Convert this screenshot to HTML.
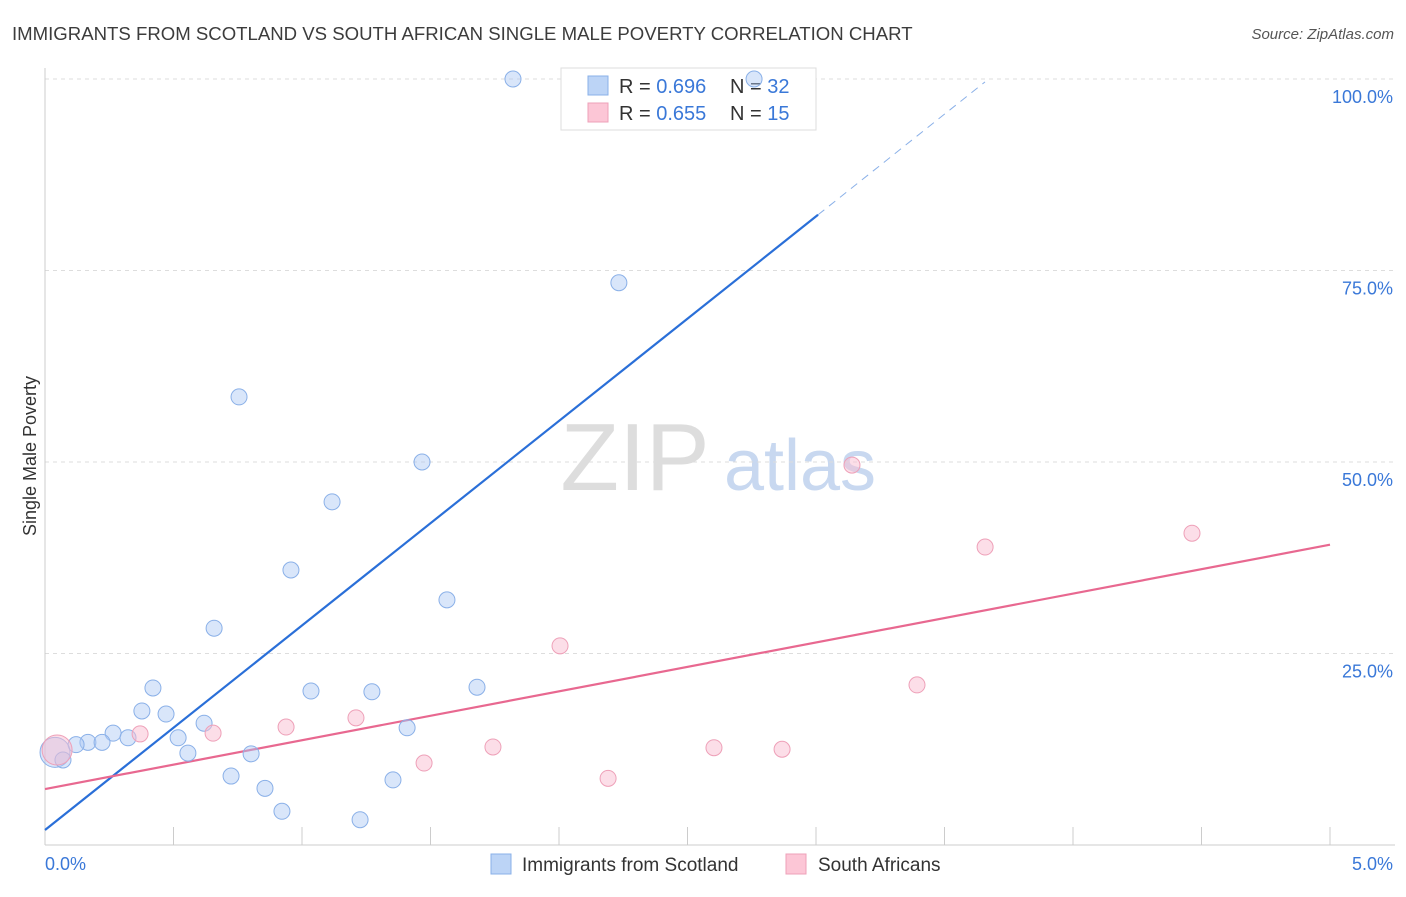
<!DOCTYPE html>
<html><head><meta charset="utf-8"><style>
body{margin:0;background:#fff;font-family:"Liberation Sans",sans-serif;}
svg text{font-family:"Liberation Sans",sans-serif;}
</style></head><body>
<svg id="c" width="1406" height="892" xmlns="http://www.w3.org/2000/svg">
<text x="12" y="40" font-size="18.6" fill="#3c3c3c">IMMIGRANTS FROM SCOTLAND VS SOUTH AFRICAN SINGLE MALE POVERTY CORRELATION CHART</text>
<text x="1394" y="39" font-size="15" fill="#555" text-anchor="end" font-style="italic">Source: ZipAtlas.com</text>
<text x="36" y="456" font-size="18" fill="#333" text-anchor="middle" transform="rotate(-90 36 456)">Single Male Poverty</text>
<g><text x="635" y="490" font-size="96" fill="#ddd" text-anchor="middle" font-family="Liberation Serif,serif">ZIP</text><text x="800" y="490" font-size="72" fill="#c8d8f0" text-anchor="middle">atlas</text></g>
<g id="grid"></g><g id="lines"></g>
<g>
<rect x="561" y="68" width="255" height="62" fill="#fff" stroke="#ddd"/>
<rect x="588" y="76" width="20" height="19" fill="#bcd4f6" stroke="#8ab0e8"/>
<rect x="588" y="103" width="20" height="19" fill="#fcc6d6" stroke="#eea0b8"/>
<text x="619" y="93" font-size="20" fill="#333">R = <tspan fill="#3a78d8">0.696</tspan></text>
<text x="730" y="93" font-size="20" fill="#333">N = <tspan fill="#3a78d8">32</tspan></text>
<text x="619" y="120" font-size="20" fill="#333">R = <tspan fill="#3a78d8">0.655</tspan></text>
<text x="730" y="120" font-size="20" fill="#333">N = <tspan fill="#3a78d8">15</tspan></text>
</g>
<g id="pts"></g>
<g>
<rect x="491" y="854" width="20" height="20" fill="#bcd4f6" stroke="#8ab0e8"/>
<text x="522" y="871" font-size="19" fill="#333">Immigrants from Scotland</text>
<rect x="786" y="854" width="20" height="20" fill="#fcc6d6" stroke="#eea0b8"/>
<text x="818" y="871" font-size="19" fill="#333">South Africans</text>
</g>
</svg>
<script>
const yTicks=[25,50,75,100];
const yTickLabels=["25.0%","50.0%","75.0%","100.0%"];
const xTickLabels=["0.0%","5.0%"];
const blueX=[1.821,2.759,2.233,0.755,1.467,1.117,0.957,1.564,0.658,0.420,1.035,1.272,1.681,0.377,0.471,0.619,0.265,0.323,0.518,0.167,0.222,0.121,1.409,0.802,0.556,0.724,0.856,1.354,0.922,1.226,0.039,0.070];
const blueY=[100,100,73.4,58.5,50.0,44.8,35.9,32.0,28.3,20.5,20.1,20.0,20.6,17.5,17.1,15.9,14.6,14.0,14.0,13.4,13.4,13.1,15.3,11.9,12.0,9.0,7.4,8.5,4.4,3.3,12.1,11.1];
const pinkX=[3.140,4.463,3.658,2.004,3.393,1.210,0.938,0.370,0.654,1.743,2.603,2.868,1.475,2.191,0.047];
const pinkY=[49.6,40.7,38.9,26.0,20.9,16.6,15.4,14.5,14.6,12.8,12.7,12.5,10.7,8.7,12.4];
const blueLine=[1.96,26.7];
const pinkLine=[7.3,6.38];
const NS="http://www.w3.org/2000/svg";
const X=v=>45+v*257, Y=v=>845-v*7.66;
function mk(t,a,p){const e=document.createElementNS(NS,t);for(const k in a)e.setAttribute(k,a[k]);p.appendChild(e);return e;}
const g=document.getElementById('grid');
yTicks.forEach((t,i)=>{
 const l=mk('line',{x1:45,x2:1395,y1:Y(t),y2:Y(t),stroke:'#ddd','stroke-dasharray':'4 4'},g);
 
 
 const tx=mk('text',{x:1393,y:Y(t)+24,'font-size':18,fill:'#3a78d8','text-anchor':'end'},g);tx.textContent=yTickLabels[i];
 
 
});
mk('line',{x1:45,x2:45,y1:68,y2:845,stroke:'#ccc'},g);
mk('line',{x1:45,x2:1395,y1:845,y2:845,stroke:'#ccc'},g);
for(let i=1;i<=10;i++){mk('line',{x1:X(i*0.5),x2:X(i*0.5),y1:827,y2:845,stroke:'#ccc'},g);}
const xl=mk('text',{x:45,y:870,'font-size':18,fill:'#3a78d8'},g);xl.textContent=xTickLabels[0];


const xr=mk('text',{x:1393,y:870,'font-size':18,fill:'#3a78d8','text-anchor':'end'},g);xr.textContent=xTickLabels[1];


const L=document.getElementById('lines');
const bx2=3.008, bx3=(985-45)/257;
let e=mk('line',{x1:X(0),y1:Y(blueLine[0]),x2:X(bx2),y2:Y(blueLine[0]+blueLine[1]*bx2),stroke:'#2a6fd8','stroke-width':2.2},L);


e=mk('line',{x1:X(bx2),y1:Y(blueLine[0]+blueLine[1]*bx2),x2:X(bx3),y2:Y(blueLine[0]+blueLine[1]*bx3),stroke:'#8ab0e8','stroke-width':1,'stroke-dasharray':'8 6'},L);


e=mk('line',{x1:X(0),y1:Y(pinkLine[0]),x2:X(5),y2:Y(pinkLine[0]+pinkLine[1]*5),stroke:'#e86890','stroke-width':2.2},L);


const P=document.getElementById('pts');
blueX.forEach((x,i)=>{const big=i==30;const c=mk('circle',{cx:X(x),cy:Y(blueY[i]),r:big?15:8,fill:'rgba(170,200,245,0.45)',stroke:'#8ab0e8','stroke-width':1},P);
 
 });
pinkX.forEach((x,i)=>{const big=i==14;const c=mk('circle',{cx:X(x),cy:Y(pinkY[i]),r:big?15:8,fill:'rgba(250,190,210,0.5)',stroke:'#eea0b8','stroke-width':1},P);
 
 });
</script>
</body></html>
